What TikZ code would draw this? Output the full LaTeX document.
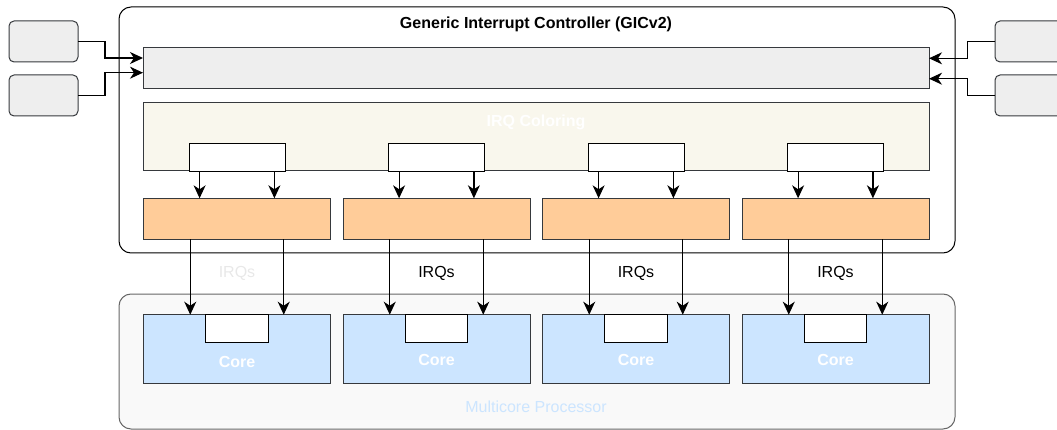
\documentclass[tikz,border=0pt]{standalone}
\usepackage{fontspec}
\setmainfont{Liberation Sans}
\usetikzlibrary{arrows.meta}
\definecolor{strk}{HTML}{36393D}
\definecolor{grayfill}{HTML}{EEEEEE}
\definecolor{colfill}{HTML}{F9F7ED}
\definecolor{orangefill}{HTML}{FFCC99}
\definecolor{bluefill}{HTML}{CCE5FF}
\definecolor{mcfill}{HTML}{F9F9F9}
\definecolor{mcstroke}{HTML}{666666}
\definecolor{faint}{HTML}{E8E8E8}
\begin{document}
\begin{tikzpicture}[x=1pt,y=-1pt,
  box/.style={draw=strk,line width=1pt,inner sep=0pt,outer sep=0pt},
  extbox/.style={box,fill=grayfill,rounded corners=5pt,minimum width=69pt,minimum height=41pt},
  bigbox/.style={draw=black,line width=1pt,rounded corners=12pt,inner sep=0pt,outer sep=0pt,minimum width=836pt},
  wbox/.style={box,fill=white,draw=black},
  lbl/.style={font=\fontsize{16pt}{19pt}\selectfont,inner sep=0pt},
  blbl/.style={lbl,font=\fontsize{16pt}{19pt}\selectfont\bfseries},
  arr/.style={line width=1.2pt,-{Stealth[length=13pt,width=12pt,inset=4pt]}}
]
\useasboundingbox (0,0) rectangle (1057,430);
% containers
\node[bigbox,fill=mcfill,draw=mcstroke,minimum height=135pt] (mc) at (537,361.5) {};
\node[lbl,text=bluefill] (mclbl) at (536,407) {Multicore Processor};
\node[bigbox,fill=white,minimum height=246pt] (gic) at (537,130) {};
\node[blbl] (title) at (536,24) {Generic Interrupt Controller (GICv2)};
% distributor bar and external sources
\node[box,fill=grayfill,minimum width=786pt,minimum height=41pt] (dist) at (536,68.5) {};
\node[extbox] (l1) at (43.5,41.5) {};
\node[extbox] (l2) at (43.5,95.5) {};
\node[extbox] (r1) at (1029.5,41.5) {};
\node[extbox] (r2) at (1029.5,95.5) {};
% coloring
\node[box,fill=colfill,minimum width=786pt,minimum height=68pt] (col) at (536,137) {};
\node[blbl,text=white] (collbl) at (536,122) {IRQ Coloring};
\foreach \i/\cx/\cy/\ic in {1/237/362/faint,2/436.5/359.5/black,3/636/359.5/black,4/835.5/359.5/black}{
  \node[wbox,minimum width=96pt,minimum height=27.7pt] (w\i) at (\cx,157.2) {};
  \node[box,fill=orangefill,minimum width=187pt,minimum height=41pt] (o\i) at (\cx,218.8) {};
  \node[box,fill=bluefill,minimum width=187pt,minimum height=69pt] (c\i) at (\cx,349.2) {};
  \node[wbox,minimum width=62.7pt,minimum height=27.6pt] (cw\i) at (\cx,328.5) {};
  \node[blbl,text=white] (cl\i) at (\cx,\cy) {Core};
  \node[lbl,text=\ic] (irq\i) at (\cx,273) {IRQs};
  \draw[arr] ([xshift=-37.4pt]w\i.south) -- ([xshift=-37.4pt]o\i.north);
  \draw[arr] ([xshift=37.4pt]w\i.south) -- ([xshift=37.4pt]o\i.north);
  \draw[arr] ([xshift=-46.75pt]o\i.south) -- ([xshift=-46.75pt]c\i.north);
  \draw[arr] ([xshift=46.75pt]o\i.south) -- ([xshift=46.75pt]c\i.north);
}
% source connectors
\draw[arr] (l1.east) -- ++(27,0) |- ([yshift=10.5pt]dist.west);
\draw[arr] (l2.east) -- ++(27,0) |- ([yshift=-4.2pt]dist.west);
\draw[arr] (r1.west) -- ++(-27.3,0) |- ([yshift=10.2pt]dist.east);
\draw[arr] (r2.west) -- ++(-27.3,0) |- ([yshift=-10.2pt]dist.east);
\end{tikzpicture}
\end{document}
